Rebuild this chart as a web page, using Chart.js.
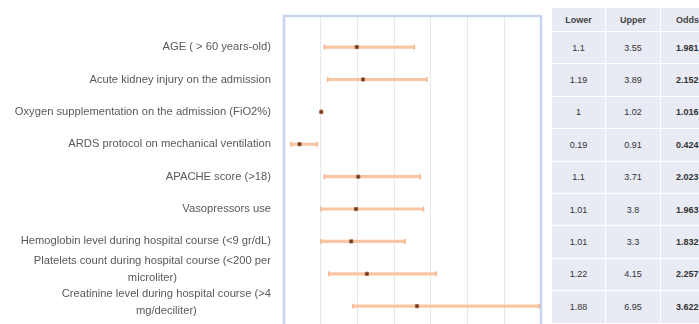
<!DOCTYPE html>
<html>
<head>
<meta charset="utf-8">
<script src="https://cdn.jsdelivr.net/npm/chart.js@4.4.0/dist/chart.umd.min.js"></script>
<style>
  body { margin: 0; background: #fff; width: 699px; height: 324px; overflow: hidden; position: relative; }
  #wrap { position: absolute; left: 0; top: 0; width: 545px; height: 324px; }
  #tabla { position: absolute; left: 551px; top: 7px; width: 165px; table-layout: fixed; border-collapse: collapse; font-family: "Liberation Sans", Arial, sans-serif; font-size: 9px; color: #333; }
  #tabla td { background: #e8eaf4; text-align: center; border: 1px solid #fff; padding: 0; white-space: nowrap; overflow: hidden; }
  #tabla tr.head td { height: 23px; font-weight: bold; color: #444; }
  #tabla tr.fila td { height: 31.4px; }
  #tabla td.odds { font-weight: bold; text-align: left; padding-left: 15px; }
</style>
</head>
<body>
<div id="wrap"><canvas id="forest"></canvas></div>
<table id="tabla"></table>
<script>
const factores = [
    'AGE ( > 60 years-old)',
    'Acute kidney injury on the admission',
    'Oxygen supplementation on the admission (FiO2%)',
    'ARDS protocol on mechanical ventilation',
    'APACHE score (>18)',
    'Vasopressors use',
    'Hemoglobin level during hospital course (<9 gr/dL)',
    ['Platelets count during hospital course (<200 per', 'microliter)'],
    ['Creatinine level during hospital course (>4', 'mg/deciliter)']
];
const inferior = [1.1, 1.19, 1, 0.19, 1.1, 1.01, 1.01, 1.22, 1.88];
const superior = [3.55, 3.89, 1.02, 0.91, 3.71, 3.8, 3.3, 4.15, 6.95];
const odds = [1.981, 2.152, 1.016, 0.424, 2.023, 1.963, 1.832, 2.257, 3.622];
const encabezados = ['Lower', 'Upper', 'Odds'];

// tabla de la derecha
const tabla = document.getElementById('tabla');
let html = '<colgroup><col style="width:54px"><col style="width:55px"><col style="width:56px"></colgroup>';
html += '<tr class="head">' + encabezados.map((h, i) =>
    `<td${i == 2 ? ' class="odds"' : ''}>${h}</td>`).join('') + '</tr>';
factores.forEach((f, i) => {
    html += `<tr class="fila"><td>${inferior[i]}</td><td>${superior[i]}</td><td class="odds">${odds[i].toFixed(3)}</td></tr>`;
});
tabla.innerHTML = html;

const filas = factores.map((f, i) => i + 1);

// etiquetas a la izquierda, bloque alineado a la derecha y lineas centradas
const etiquetas = {
    id: 'etiquetas',
    afterDraw(chart) {
        const ctx = chart.ctx;
        const y = chart.scales.y;
        ctx.save();
        ctx.font = '11.2px "Liberation Sans", Arial, sans-serif';
        ctx.fillStyle = '#595959';
        ctx.textAlign = 'center';
        ctx.textBaseline = 'middle';
        factores.forEach((f, i) => {
            const lineas = Array.isArray(f) ? f : [f];
            const ancho = Math.max(...lineas.map(l => ctx.measureText(l).width));
            const cx = 271 - ancho / 2;
            const cy = y.getPixelForValue(filas[i]) - (lineas.length > 1 ? 4 : 0);
            const alto = 17;
            lineas.forEach((l, j) => {
                ctx.fillText(l, cx, cy + (j - (lineas.length - 1) / 2) * alto);
            });
        });
        ctx.restore();
    }
};

// marco azul del area del grafico
const marco = {
    id: 'marco',
    beforeDatasetsDraw(chart) {
        const { ctx, chartArea: a } = chart;
        ctx.save();
        ctx.strokeStyle = '#c8d5f0';
        ctx.lineWidth = 2.5;
        ctx.beginPath();
        ctx.moveTo(a.left, a.bottom + 5);
        ctx.lineTo(a.left, a.top);
        ctx.lineTo(a.right, a.top);
        ctx.lineTo(a.right, a.bottom + 5);
        ctx.stroke();
        ctx.restore();
    }
};

const ctx = document.getElementById('forest').getContext('2d');

const chartForest = new Chart(ctx, {
    data: {
        datasets: [
            {
                type: 'bar',
                label: 'IC 95%',
                data: filas.map((f, i) => ({ x: [inferior[i], superior[i]], y: f })),
                backgroundColor: '#f8c6a4',
                barThickness: 2.5,
                order: 3
            },
            {
                type: 'scatter',
                label: 'Extremos',
                data: filas.flatMap((f, i) => [{ x: inferior[i], y: f }, { x: superior[i], y: f }]),
                pointStyle: 'line',
                rotation: 90,
                radius: 2.5,
                borderColor: '#f4b58c',
                borderWidth: 1.5,
                order: 2
            },
            {
                type: 'scatter',
                label: 'Odds',
                data: filas.map((f, i) => ({ x: odds[i], y: f })),
                pointStyle: 'rect',
                radius: 2.2,
                backgroundColor: '#5a3320',
                borderColor: '#a0603a',
                borderWidth: 1,
                order: 1
            }
        ]
    },
    options: {
        indexAxis: 'y',
        responsive: true,
        maintainAspectRatio: false,
        animation: false,
        layout: { autoPadding: false, padding: { top: 16, right: 4, left: 0, bottom: 0 } },
        plugins: { legend: { display: false }, tooltip: { enabled: false } },
        scales: {
            x: {
                type: 'linear',
                min: 0,
                max: 7,
                display: true,
                offset: false,
                afterFit: axis => { axis.height = 0; },
                ticks: { display: false, stepSize: 1 },
                grid: { color: '#e8e8e8', drawTicks: false, offset: false },
                border: { display: false }
            },
            y: {
                type: 'linear',
                min: 0.04,
                max: 9.55,
                reverse: true,
                offset: false,
                afterFit: axis => { axis.width = 284; },
                afterBuildTicks: axis => { axis.ticks = filas.map(v => ({ value: v })); },
                ticks: { display: false },
                grid: { display: false, offset: false },
                border: { display: false }
            }
        }
    },
    plugins: [marco, etiquetas]
});
</script>
</body>
</html>
